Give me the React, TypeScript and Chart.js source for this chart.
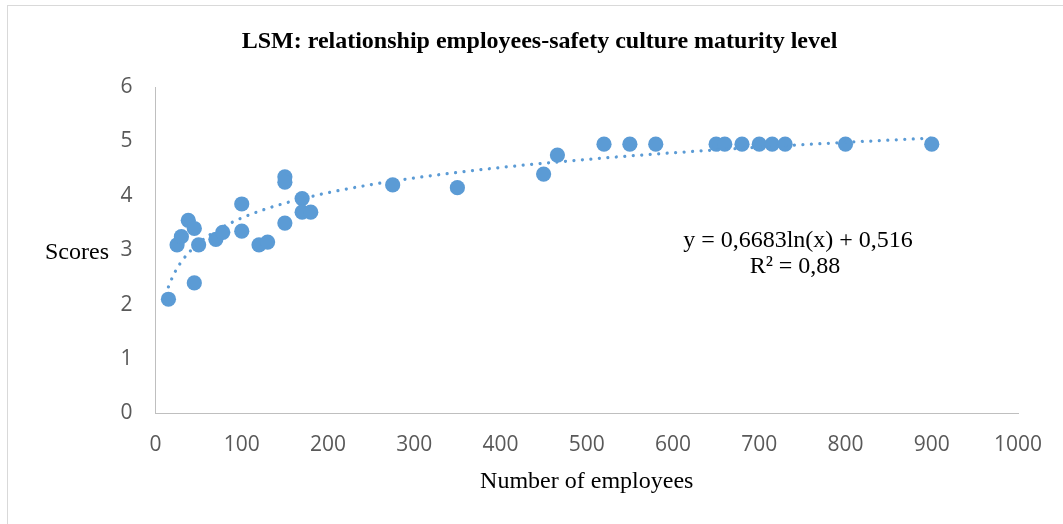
import React, { useEffect, useRef } from "react";
import { Chart, registerables } from "chart.js";

Chart.register(...registerables);

// Observed data (number of employees, safety culture maturity score)
const employees = [
  15, 25, 30, 38, 45, 45, 50, 70, 78, 100, 100, 120, 130, 150, 150, 150, 170, 170, 180,
  275, 350, 450, 466, 520, 550, 580, 650, 660, 680, 700, 715, 730, 800, 900,
];
const scores = [
  2.1, 3.1, 3.25, 3.55, 3.4, 2.4, 3.1, 3.2, 3.33, 3.35, 3.85, 3.1, 3.15, 4.35, 4.25, 3.5, 3.95, 3.7, 3.7,
  4.2, 4.15, 4.4, 4.75, 4.95, 4.95, 4.95, 4.95, 4.95, 4.95, 4.95, 4.95, 4.95, 4.95, 4.95,
];

// Logarithmic trend line (y = 0,6683ln(x) + 0,516)
const trendX = [15, 20, 25, 30, 40, 50, 60, 75, 100, 125, 150, 200, 250, 300, 400, 500, 600, 700, 800, 900];
const trendY = [
  2.326, 2.518, 2.667, 2.789, 2.981, 3.13, 3.252, 3.401, 3.594, 3.743, 3.865, 4.057, 4.206, 4.328, 4.52,
  4.669, 4.791, 4.894, 4.983, 5.062,
];

const xMin = 0;
const xMax = 1000;
const xStep = 100;
const yMin = 0;
const yMax = 6;
const yStep = 1;

const chartTitle = "LSM: relationship employees-safety culture maturity level";
const xAxisTitle = "Number of employees";
const yAxisTitle = "Scores";
const equationLines = ["y = 0,6683ln(x) + 0,516", "R\u00B2 = 0,88"];

const BLUE = "#5B9BD5";
const TICK_COLOR = "#595959";
const AXIS_COLOR = "#BFBFBF";
const SERIF = '"Liberation Serif", "Times New Roman", serif';

const textPlugin = {
  id: "customTexts",
  afterDraw(chart: any) {
    const ctx = chart.ctx as CanvasRenderingContext2D;
    const area = chart.chartArea;
    ctx.save();
    ctx.fillStyle = "#000000";
    ctx.textBaseline = "alphabetic";
    ctx.textAlign = "center";
    ctx.font = `bold 24px ${SERIF}`;
    ctx.fillText(chartTitle, 539.5, 47.5);
    ctx.font = `24px ${SERIF}`;
    ctx.fillText(xAxisTitle, (area.left + area.right) / 2, 488);
    ctx.fillText(equationLines[0], 798, 246.5);
    ctx.fillText(equationLines[1], 795, 273);
    ctx.textAlign = "left";
    ctx.fillText(yAxisTitle, 45, 259);
    ctx.restore();
  },
};

export default function App() {
  const canvasRef = useRef<HTMLCanvasElement | null>(null);

  useEffect(() => {
    const canvas = canvasRef.current;
    if (!canvas) return;
    const points = employees.map((x, i) => ({ x, y: scores[i] }));
    const trend = trendX.map((x, i) => ({ x, y: trendY[i] }));
    const tickFont = { family: '"Open Sans", sans-serif', size: 21 };
    const plainTick = (v: any) => String(v);

    const chart = new Chart(canvas, {
      type: "scatter",
      data: {
        datasets: [
          {
            label: "Trend",
            data: trend,
            showLine: true,
            borderColor: BLUE,
            backgroundColor: BLUE,
            borderWidth: 3.25,
            borderDash: [0.001, 8.5],
            borderCapStyle: "round",
            cubicInterpolationMode: "monotone",
            pointRadius: 0,
            pointHoverRadius: 0,
            order: 0,
          } as any,
          {
            label: "Scores",
            data: points,
            showLine: false,
            backgroundColor: BLUE,
            borderColor: BLUE,
            borderWidth: 0,
            pointRadius: 7.6,
            pointHoverRadius: 7.6,
            order: 1,
          },
        ],
      },
      options: {
        responsive: false,
        animation: false,
        devicePixelRatio: 1,
        layout: { padding: { left: 0, top: 87, right: 45, bottom: 0 } },
        plugins: {
          legend: { display: false },
          tooltip: { enabled: false },
          title: { display: false },
        },
        scales: {
          x: {
            type: "linear",
            min: xMin,
            max: xMax,
            grid: { display: false, drawTicks: false },
            border: { display: true, color: AXIS_COLOR, width: 1 },
            ticks: {
              stepSize: xStep,
              color: TICK_COLOR,
              font: tickFont,
              padding: 19,
              maxRotation: 0,
              callback: plainTick,
            },
            afterFit(scale: any) {
              scale.height = 110.5;
            },
          },
          y: {
            type: "linear",
            min: yMin,
            max: yMax,
            grid: { display: false, drawTicks: false },
            border: { display: true, color: AXIS_COLOR, width: 1 },
            ticks: { stepSize: yStep, color: TICK_COLOR, font: tickFont, padding: 23, callback: plainTick },
            afterFit(scale: any) {
              scale.width = 155.5;
            },
          },
        },
      },
      plugins: [textPlugin],
    });

    return () => {
      chart.destroy();
    };
  }, []);

  return (
    <>
      <div
        style={{
          position: "absolute",
          left: 7,
          top: 5,
          width: 1056,
          height: 530,
          borderTop: "1px solid #D9D9D9",
          borderLeft: "1px solid #D9D9D9",
          boxSizing: "border-box",
        }}
      />
      <canvas
        ref={canvasRef}
        width={1063}
        height={524}
        style={{ position: "absolute", left: 0, top: 0, width: 1063, height: 524 }}
      />
    </>
  );
}
